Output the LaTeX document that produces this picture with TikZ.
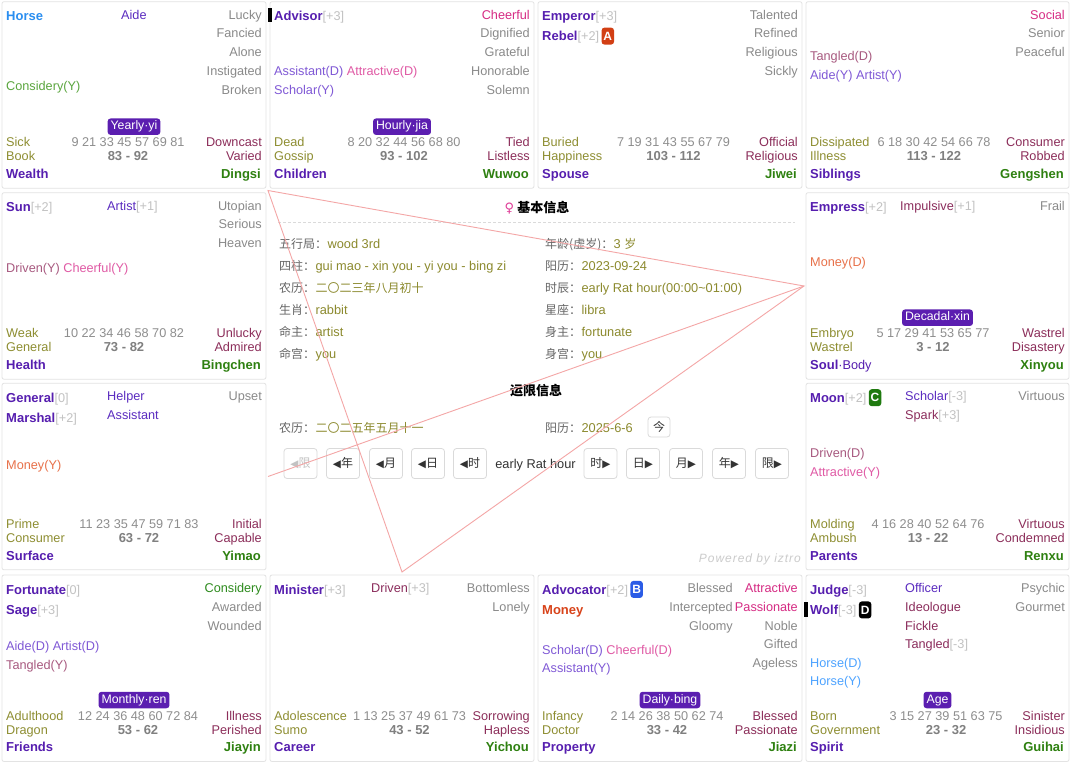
\documentclass[tikz,border=0pt]{standalone}
\usepackage{fontspec}
\setmainfont{Liberation Sans}
\newfontfamily\cjk{Noto Sans CJK SC}
\newfontfamily\sym{DejaVu Sans}

\definecolor{cPur}{HTML}{561EAF}
\definecolor{cMinP}{HTML}{5B2CC0}
\definecolor{cMar}{HTML}{8B2D5C}
\definecolor{cAdj}{HTML}{8A8A8A}
\definecolor{cBri}{HTML}{C2C2C2}
\definecolor{cOlive}{HTML}{8E8E32}
\definecolor{cMar2}{HTML}{8C2E5A}
\definecolor{cAges}{HTML}{8E8E8E}
\definecolor{cRng}{HTML}{808080}
\definecolor{cGreen}{HTML}{2E8010}
\definecolor{cGreenA}{HTML}{2E8B1E}
\definecolor{cPink}{HTML}{D62C84}
\definecolor{cFlyP}{HTML}{8059D6}
\definecolor{cFlyK}{HTML}{E05AA5}
\definecolor{cFlyM}{HTML}{A85A80}
\definecolor{cFlyG}{HTML}{5BA63F}
\definecolor{cFlyO}{HTML}{E8714A}
\definecolor{cFlyB}{HTML}{4DA3FF}
\definecolor{cMoney}{HTML}{D8431A}
\definecolor{cHorse}{HTML}{2A8EF0}
\definecolor{cBadge}{HTML}{5B1EB0}
\definecolor{cMutA}{HTML}{D23F14}
\definecolor{cMutB}{HTML}{2B5CE6}
\definecolor{cMutC}{HTML}{1F7A0F}
\definecolor{cCell}{HTML}{E3E3E3}
\definecolor{cLab}{HTML}{666666}
\definecolor{cVal}{HTML}{8C8A2E}
\definecolor{cBtn}{HTML}{DADADA}
\definecolor{cBtnT}{HTML}{333333}
\definecolor{cLine}{HTML}{F4A6A6}
\definecolor{cFem}{HTML}{E0409A}

\newcommand\fsn{\fontsize{12.7}{14}\selectfont}
\newcommand\fsg{\fontsize{12.3}{14}\selectfont}
\newcommand\fsb{\fontsize{13}{15}\selectfont\bfseries}
\newcommand\fsc{\fontsize{12}{14}\selectfont}
\newcommand\fsv{\fontsize{12.8}{14}\selectfont}
\newcommand\bri[1]{{\fsn\mdseries\color{cBri}#1}}
\newcommand\tri[1]{{\sym\fontsize{10.5}{12}\selectfont#1}}

\def\Ya{15.7}
\def\Yb{206.7}
\def\Yc{397.3}
\def\Yd{589}

\begin{document}
\begin{tikzpicture}[x=1pt,y=-1pt,
  t/.style={inner sep=0pt,text height=12.6pt,text depth=2.4pt,font=\fsn},
  W/.style={t,anchor=west},
  E/.style={t,anchor=east},
  C/.style={t,anchor=center},
  major/.style={W,text=cPur,font=\fsb},
  minP/.style={W,text=cMinP},
  minM/.style={W,text=cMar},
  adj/.style={E,text=cAdj},
  fly/.style={W},
  cs/.style={W,text=cOlive},
  ages/.style={C,text=cAges},
  rng/.style={C,text=cRng,font=\fsb},
  sq/.style={E,text=cMar2},
  pal/.style={W,text=cPur,font=\fsb},
  brn/.style={E,text=cGreen,font=\fsb},
  badge/.style={fill=cBadge,text=white,rounded corners=3pt,inner xsep=3pt,inner ysep=0pt,
    minimum height=16.5pt,font=\fsg,text height=8.8pt,text depth=2.4pt},
  mut/.style={inner sep=0pt,minimum width=12.5pt,minimum height=17pt,rounded corners=3pt,
    text=white,font=\fontsize{12}{14}\selectfont\bfseries,anchor=west},
  bar/.style={fill=black,inner sep=0pt,minimum width=4pt,minimum height=14.5pt},
  cellbox/.style={draw=cCell,line width=0.8pt,rounded corners=2pt,fill=white},
  btn/.style={draw=cBtn,line width=0.8pt,rounded corners=3pt,fill=white,inner sep=0pt,
    minimum width=33pt,minimum height=30pt,text=cBtnT,font=\cjk\fsc},
  lab/.style={W,text=cLab,font=\cjk\fsc},
  val/.style={W,text=cVal,font=\fsv},
  redl/.style={draw=cLine,line width=0.9pt}
]
\useasboundingbox (0,0) rectangle (1071,763);
\fill[white] (0,0) rectangle (1071,763);

% palace frames
\foreach \yy in {\Ya,\Yd}{
  \foreach \xl/\xr in {2/266,270/534,538/802,806/1069}{
    \draw[cellbox] (\xl,\yy-14) rectangle (\xr,\yy+172.5);
  }
}
\foreach \yy in {\Yb,\Yc}{
  \foreach \xl/\xr in {2/266,806/1069}{
    \draw[cellbox] (\xl,\yy-14) rectangle (\xr,\yy+172.5);
  }
}

% ---------- Wealth / Dingsi
\node[major,text=cHorse] (c1s1) at (6,\Ya) {Horse};
\node[minP] (c1n1) at (121,\Ya-1.7) {Aide};
\node[adj] (c1j1) at (262,\Ya-1.7) {Lucky};
\node[adj] (c1j2) at (262,\Ya+17.1) {Fancied};
\node[adj] (c1j3) at (262,\Ya+35.9) {Alone};
\node[adj] (c1j4) at (262,\Ya+54.7) {Instigated};
\node[adj] (c1j5) at (262,\Ya+73.5) {Broken};
\node[fly,text=cFlyG] (c1f1) at (6,\Ya+69.3) {Considery(Y)};
\node[badge] (c1b) at (134,\Ya+111) {Yearly·yi};
\node[cs] (c1l1) at (6,\Ya+126) {Sick};
\node[ages] (c1ag) at (128,\Ya+126) {9 21 33 45 57 69 81};
\node[sq] (c1r1) at (262,\Ya+126) {Downcast};
\node[cs] (c1l2) at (6,\Ya+140) {Book};
\node[rng] (c1rg) at (128,\Ya+140) {83 - 92};
\node[sq] (c1r2) at (262,\Ya+140) {Varied};
\node[pal] (c1p) at (6,\Ya+157.6) {Wealth};
\node[brn] (c1br) at (261,\Ya+157.6) {Dingsi};

% ---------- Children / Wuwoo
\node[bar] (bar1) at (270,15) {};
\node[major] (c2s1) at (274,\Ya) {Advisor\bri{[+3]}};
\node[adj,text=cPink] (c2j1) at (530,\Ya-1.7) {Cheerful};
\node[adj] (c2j2) at (530,\Ya+17.1) {Dignified};
\node[adj] (c2j3) at (530,\Ya+35.9) {Grateful};
\node[adj] (c2j4) at (530,\Ya+54.7) {Honorable};
\node[adj] (c2j5) at (530,\Ya+73.5) {Solemn};
\node[fly] (c2f1) at (274,\Ya+55) {{\color{cFlyP}Assistant(D)} {\color{cFlyK}Attractive(D)}};
\node[fly,text=cFlyP] (c2f2) at (274,\Ya+73.6) {Scholar(Y)};
\node[badge] (c2b) at (402,\Ya+111) {Hourly·jia};
\node[cs] (c2l1) at (274,\Ya+126) {Dead};
\node[ages] (c2ag) at (404,\Ya+126) {8 20 32 44 56 68 80};
\node[sq] (c2r1) at (530,\Ya+126) {Tied};
\node[cs] (c2l2) at (274,\Ya+140) {Gossip};
\node[rng] (c2rg) at (404,\Ya+140) {93 - 102};
\node[sq] (c2r2) at (530,\Ya+140) {Listless};
\node[pal] (c2p) at (274,\Ya+157.6) {Children};
\node[brn] (c2br) at (529,\Ya+157.6) {Wuwoo};

% ---------- Spouse / Jiwei
\node[major] (c3s1) at (542,\Ya) {Emperor\bri{[+3]}};
\node[major] (c3s2) at (542,\Ya+20) {Rebel\bri{[+2]}};
\node[mut,fill=cMutA] (c3m) at ([xshift=2pt,yshift=-0.4pt]c3s2.east) {A};
\node[adj] (c3j1) at (798,\Ya-1.7) {Talented};
\node[adj] (c3j2) at (798,\Ya+17.1) {Refined};
\node[adj] (c3j3) at (798,\Ya+35.9) {Religious};
\node[adj] (c3j4) at (798,\Ya+54.7) {Sickly};
\node[cs] (c3l1) at (542,\Ya+126) {Buried};
\node[ages] (c3ag) at (673.5,\Ya+126) {7 19 31 43 55 67 79};
\node[sq] (c3r1) at (798,\Ya+126) {Official};
\node[cs] (c3l2) at (542,\Ya+140) {Happiness};
\node[rng] (c3rg) at (673.5,\Ya+140) {103 - 112};
\node[sq] (c3r2) at (798,\Ya+140) {Religious};
\node[pal] (c3p) at (542,\Ya+157.6) {Spouse};
\node[brn] (c3br) at (797,\Ya+157.6) {Jiwei};

% ---------- Siblings / Gengshen
\node[adj,text=cPink] (c4j1) at (1065,\Ya-1.7) {Social};
\node[adj] (c4j2) at (1065,\Ya+17.1) {Senior};
\node[adj] (c4j3) at (1065,\Ya+35.9) {Peaceful};
\node[fly,text=cFlyM] (c4f1) at (810,\Ya+40) {Tangled(D)};
\node[fly,text=cFlyP] (c4f2) at (810,\Ya+59) {Aide(Y) Artist(Y)};
\node[cs] (c4l1) at (810,\Ya+126) {Dissipated};
\node[ages] (c4ag) at (934,\Ya+126) {6 18 30 42 54 66 78};
\node[sq] (c4r1) at (1065,\Ya+126) {Consumer};
\node[cs] (c4l2) at (810,\Ya+140) {Illness};
\node[rng] (c4rg) at (934,\Ya+140) {113 - 122};
\node[sq] (c4r2) at (1065,\Ya+140) {Robbed};
\node[pal] (c4p) at (810,\Ya+157.6) {Siblings};
\node[brn] (c4br) at (1064,\Ya+157.6) {Gengshen};

% ---------- Health / Bingchen
\node[major] (c5s1) at (6,\Yb) {Sun\bri{[+2]}};
\node[minP] (c5n1) at (107,\Yb-1.7) {Artist\bri{[+1]}};
\node[adj] (c5j1) at (262,\Yb-1.7) {Utopian};
\node[adj] (c5j2) at (262,\Yb+17.1) {Serious};
\node[adj] (c5j3) at (262,\Yb+35.9) {Heaven};
\node[fly] (c5f1) at (6,\Yb+60.6) {{\color{cFlyM}Driven(Y)} {\color{cFlyK}Cheerful(Y)}};
\node[cs] (c5l1) at (6,\Yb+126) {Weak};
\node[ages] (c5ag) at (124,\Yb+126) {10 22 34 46 58 70 82};
\node[sq] (c5r1) at (262,\Yb+126) {Unlucky};
\node[cs] (c5l2) at (6,\Yb+140) {General};
\node[rng] (c5rg) at (124,\Yb+140) {73 - 82};
\node[sq] (c5r2) at (262,\Yb+140) {Admired};
\node[pal] (c5p) at (6,\Yb+157.6) {Health};
\node[brn] (c5br) at (261,\Yb+157.6) {Bingchen};

% ---------- Soul / Xinyou
\node[major] (c6s1) at (810,\Yb) {Empress\bri{[+2]}};
\node[minM] (c6n1) at (900,\Yb-1.7) {Impulsive\bri{[+1]}};
\node[adj] (c6j1) at (1065,\Yb-1.7) {Frail};
\node[fly,text=cFlyO] (c6f1) at (810,\Yb+55) {Money(D)};
\node[badge] (c6b) at (937.5,\Yb+111) {Decadal·xin};
\node[cs] (c6l1) at (810,\Yb+126) {Embryo};
\node[ages] (c6ag) at (933,\Yb+126) {5 17 29 41 53 65 77};
\node[sq] (c6r1) at (1065,\Yb+126) {Wastrel};
\node[cs] (c6l2) at (810,\Yb+140) {Wastrel};
\node[rng] (c6rg) at (933,\Yb+140) {3 - 12};
\node[sq] (c6r2) at (1065,\Yb+140) {Disastery};
\node[pal] (c6p) at (810,\Yb+157.6) {Soul{\fsn\mdseries·Body}};
\node[brn] (c6br) at (1064,\Yb+157.6) {Xinyou};

% ---------- Surface / Yimao
\node[major] (c7s1) at (6,\Yc) {General\bri{[0]}};
\node[major] (c7s2) at (6,\Yc+20) {Marshal\bri{[+2]}};
\node[minP] (c7n1) at (107,\Yc-1.7) {Helper};
\node[minP] (c7n2) at (107,\Yc+17.1) {Assistant};
\node[adj] (c7j1) at (262,\Yc-1.7) {Upset};
\node[fly,text=cFlyO] (c7f1) at (6,\Yc+66.7) {Money(Y)};
\node[cs] (c7l1) at (6,\Yc+126) {Prime};
\node[ages] (c7ag) at (139,\Yc+126) {11 23 35 47 59 71 83};
\node[sq] (c7r1) at (262,\Yc+126) {Initial};
\node[cs] (c7l2) at (6,\Yc+140) {Consumer};
\node[rng] (c7rg) at (139,\Yc+140) {63 - 72};
\node[sq] (c7r2) at (262,\Yc+140) {Capable};
\node[pal] (c7p) at (6,\Yc+157.6) {Surface};
\node[brn] (c7br) at (261,\Yc+157.6) {Yimao};

% ---------- Parents / Renxu
\node[major] (c8s1) at (810,\Yc) {Moon\bri{[+2]}};
\node[mut,fill=cMutC] (c8m) at ([xshift=2pt,yshift=-0.4pt]c8s1.east) {C};
\node[minP] (c8n1) at (905,\Yc-1.7) {Scholar\bri{[-3]}};
\node[minM] (c8n2) at (905,\Yc+17.1) {Spark\bri{[+3]}};
\node[adj] (c8j1) at (1065,\Yc-1.7) {Virtuous};
\node[fly,text=cFlyM] (c8f1) at (810,\Yc+55.4) {Driven(D)};
\node[fly,text=cFlyK] (c8f2) at (810,\Yc+74.4) {Attractive(Y)};
\node[cs] (c8l1) at (810,\Yc+126) {Molding};
\node[ages] (c8ag) at (928,\Yc+126) {4 16 28 40 52 64 76};
\node[sq] (c8r1) at (1065,\Yc+126) {Virtuous};
\node[cs] (c8l2) at (810,\Yc+140) {Ambush};
\node[rng] (c8rg) at (928,\Yc+140) {13 - 22};
\node[sq] (c8r2) at (1065,\Yc+140) {Condemned};
\node[pal] (c8p) at (810,\Yc+157.6) {Parents};
\node[brn] (c8br) at (1064,\Yc+157.6) {Renxu};

% ---------- Friends / Jiayin
\node[major] (c9s1) at (6,\Yd) {Fortunate\bri{[0]}};
\node[major] (c9s2) at (6,\Yd+20.5) {Sage\bri{[+3]}};
\node[adj,text=cGreenA] (c9j1) at (262,\Yd-1.7) {Considery};
\node[adj] (c9j2) at (262,\Yd+17.1) {Awarded};
\node[adj] (c9j3) at (262,\Yd+35.9) {Wounded};
\node[fly,text=cFlyP] (c9f1) at (6,\Yd+56) {Aide(D) Artist(D)};
\node[fly,text=cFlyM] (c9f2) at (6,\Yd+75) {Tangled(Y)};
\node[badge] (c9b) at (134,\Yd+111) {Monthly·ren};
\node[cs] (c9l1) at (6,\Yd+126) {Adulthood};
\node[ages] (c9ag) at (138,\Yd+126) {12 24 36 48 60 72 84};
\node[sq] (c9r1) at (262,\Yd+126) {Illness};
\node[cs] (c9l2) at (6,\Yd+140) {Dragon};
\node[rng] (c9rg) at (138,\Yd+140) {53 - 62};
\node[sq] (c9r2) at (262,\Yd+140) {Perished};
\node[pal] (c9p) at (6,\Yd+157.6) {Friends};
\node[brn] (c9br) at (261,\Yd+157.6) {Jiayin};

% ---------- Career / Yichou
\node[major] (c10s1) at (274,\Yd) {Minister\bri{[+3]}};
\node[minM] (c10n1) at (371,\Yd-1.7) {Driven\bri{[+3]}};
\node[adj] (c10j1) at (530,\Yd-1.7) {Bottomless};
\node[adj] (c10j2) at (530,\Yd+17.1) {Lonely};
\node[cs] (c10l1) at (274,\Yd+126) {Adolescence};
\node[ages] (c10ag) at (409.5,\Yd+126) {1 13 25 37 49 61 73};
\node[sq] (c10r1) at (530,\Yd+126) {Sorrowing};
\node[cs] (c10l2) at (274,\Yd+140) {Sumo};
\node[rng] (c10rg) at (409.5,\Yd+140) {43 - 52};
\node[sq] (c10r2) at (530,\Yd+140) {Hapless};
\node[pal] (c10p) at (274,\Yd+157.6) {Career};
\node[brn] (c10br) at (529,\Yd+157.6) {Yichou};

% ---------- Property / Jiazi
\node[major] (c11s1) at (542,\Yd) {Advocator\bri{[+2]}};
\node[mut,fill=cMutB] (c11m) at ([xshift=2pt,yshift=-0.4pt]c11s1.east) {B};
\node[major,text=cMoney] (c11s2) at (542,\Yd+20.5) {Money};
\node[adj] (c11k1) at (733,\Yd-1.7) {Blessed};
\node[adj] (c11k2) at (733,\Yd+17.1) {Intercepted};
\node[adj] (c11k3) at (733,\Yd+35.9) {Gloomy};
\node[adj,text=cPink] (c11j1) at (798,\Yd-1.7) {Attractive};
\node[adj,text=cPink] (c11j2) at (798,\Yd+17.1) {Passionate};
\node[adj] (c11j3) at (798,\Yd+35.9) {Noble};
\node[adj] (c11j4) at (798,\Yd+54.7) {Gifted};
\node[adj] (c11j5) at (798,\Yd+73.5) {Ageless};
\node[fly] (c11f1) at (542,\Yd+60) {{\color{cFlyP}Scholar(D)} {\color{cFlyK}Cheerful(D)}};
\node[fly,text=cFlyP] (c11f2) at (542,\Yd+78.7) {Assistant(Y)};
\node[badge] (c11b) at (670,\Yd+111) {Daily·bing};
\node[cs] (c11l1) at (542,\Yd+126) {Infancy};
\node[ages] (c11ag) at (667,\Yd+126) {2 14 26 38 50 62 74};
\node[sq] (c11r1) at (798,\Yd+126) {Blessed};
\node[cs] (c11l2) at (542,\Yd+140) {Doctor};
\node[rng] (c11rg) at (667,\Yd+140) {33 - 42};
\node[sq] (c11r2) at (798,\Yd+140) {Passionate};
\node[pal] (c11p) at (542,\Yd+157.6) {Property};
\node[brn] (c11br) at (797,\Yd+157.6) {Jiazi};

% ---------- Spirit / Guihai
\node[bar] (bar2) at (806,609.5) {};
\node[major] (c12s1) at (810,\Yd) {Judge\bri{[-3]}};
\node[major] (c12s2) at (810,\Yd+20.5) {Wolf\bri{[-3]}};
\node[mut,fill=black] (c12m) at ([xshift=2pt,yshift=-0.4pt]c12s2.east) {D};
\node[minP] (c12n1) at (905,\Yd-1.7) {Officer};
\node[minM] (c12n2) at (905,\Yd+17.1) {Ideologue};
\node[minM] (c12n3) at (905,\Yd+35.9) {Fickle};
\node[minM] (c12n4) at (905,\Yd+54.7) {Tangled\bri{[-3]}};
\node[adj] (c12j1) at (1065,\Yd-1.7) {Psychic};
\node[adj] (c12j2) at (1065,\Yd+17.1) {Gourmet};
\node[fly,text=cFlyB] (c12f1) at (810,\Yd+73.7) {Horse(D)};
\node[fly,text=cFlyB] (c12f2) at (810,\Yd+91.7) {Horse(Y)};
\node[badge] (c12b) at (937.5,\Yd+111) {Age};
\node[cs] (c12l1) at (810,\Yd+126) {Born};
\node[ages] (c12ag) at (946,\Yd+126) {3 15 27 39 51 63 75};
\node[sq] (c12r1) at (1065,\Yd+126) {Sinister};
\node[cs] (c12l2) at (810,\Yd+140) {Government};
\node[rng] (c12rg) at (946,\Yd+140) {23 - 32};
\node[sq] (c12r2) at (1065,\Yd+140) {Insidious};
\node[pal] (c12p) at (810,\Yd+157.6) {Spirit};
\node[brn] (c12br) at (1064,\Yd+157.6) {Guihai};

% ---------- centre: basic information
\node[C,font=\cjk\fontsize{13}{15}\selectfont\bfseries,text=black] (hBasic) at (537,207)
  {{\sym\color{cFem}♀}\hspace{3pt}基本信息};
\draw[cBtn,line width=0.8pt,dash pattern=on 3pt off 2pt] (278,222) -- (795,222);

\node[lab] (iL1) at (279,243) {五行局：};  \node[val] (iV1) at (iL1.east) {wood 3rd};
\node[lab] (iL2) at (279,265) {四柱：};    \node[val] (iV2) at (iL2.east) {gui mao - xin you - yi you - bing zi};
\node[lab] (iL3) at (279,287) {农历：};    \node[val,font=\cjk\fsc] (iV3) at (iL3.east) {二〇二三年八月初十};
\node[lab] (iL4) at (279,309) {生肖：};    \node[val] (iV4) at (iL4.east) {rabbit};
\node[lab] (iL5) at (279,331) {命主：};    \node[val] (iV5) at (iL5.east) {artist};
\node[lab] (iL6) at (279,353) {命宫：};    \node[val] (iV6) at (iL6.east) {you};

\node[lab] (iR1) at (545,243) {年龄(虚岁)：}; \node[val] (iW1) at (iR1.east) {3 {\cjk\fsc 岁}};
\node[lab] (iR2) at (545,265) {阳历：};    \node[val] (iW2) at (iR2.east) {2023-09-24};
\node[lab] (iR3) at (545,287) {时辰：};    \node[val] (iW3) at (iR3.east) {early Rat hour(00:00\textasciitilde01:00)};
\node[lab] (iR4) at (545,309) {星座：};    \node[val] (iW4) at (iR4.east) {libra};
\node[lab] (iR5) at (545,331) {身主：};    \node[val] (iW5) at (iR5.east) {fortunate};
\node[lab] (iR6) at (545,353) {身宫：};    \node[val] (iW6) at (iR6.east) {you};

% ---------- centre: horoscope period
\node[C,font=\cjk\fontsize{13}{15}\selectfont\bfseries,text=black] (hPeriod) at (536,390) {运限信息};
\node[lab] (pL1) at (279,427) {农历：}; \node[val,font=\cjk\fsc] (pV1) at (pL1.east) {二〇二五年五月十一};
\node[lab] (pL2) at (545,427) {阳历：}; \node[val] (pV2) at (pL2.east) {2025-6-6};
\node[btn,minimum width=22pt,minimum height=20pt] (bToday) at (659,427) {今};

\node[btn,text=cBri] (bP1) at (300.5,463.5) {\tri{◀}限};
\node[btn] (bP2) at (343,463.5) {\tri{◀}年};
\node[btn] (bP3) at (386,463.5) {\tri{◀}月};
\node[btn] (bP4) at (428,463.5) {\tri{◀}日};
\node[btn] (bP5) at (470,463.5) {\tri{◀}时};
\node[C,text=cBtnT,font=\fsv] (bNow) at (535.5,463.5) {early Rat hour};
\node[btn] (bN1) at (600.5,463.5) {时\tri{▶}};
\node[btn] (bN2) at (643,463.5) {日\tri{▶}};
\node[btn] (bN3) at (686,463.5) {月\tri{▶}};
\node[btn] (bN4) at (729,463.5) {年\tri{▶}};
\node[btn] (bN5) at (772,463.5) {限\tri{▶}};

\node[E,text=cBri!85,font=\fsc\itshape\addfontfeatures{LetterSpace=8}] (powered) at (801,557) {Powered by iztro};

% ---------- triad lines of the decadal palace
\coordinate (pSoul) at (804,286);
\coordinate (pSi) at (268,190.5);
\coordinate (pMao) at (268,476.5);
\coordinate (pChou) at (402,572);
\draw[redl] (pSoul) -- (pSi) -- (pChou) -- cycle;
\draw[redl] (pSoul) -- (pMao);
\end{tikzpicture}
\end{document}
